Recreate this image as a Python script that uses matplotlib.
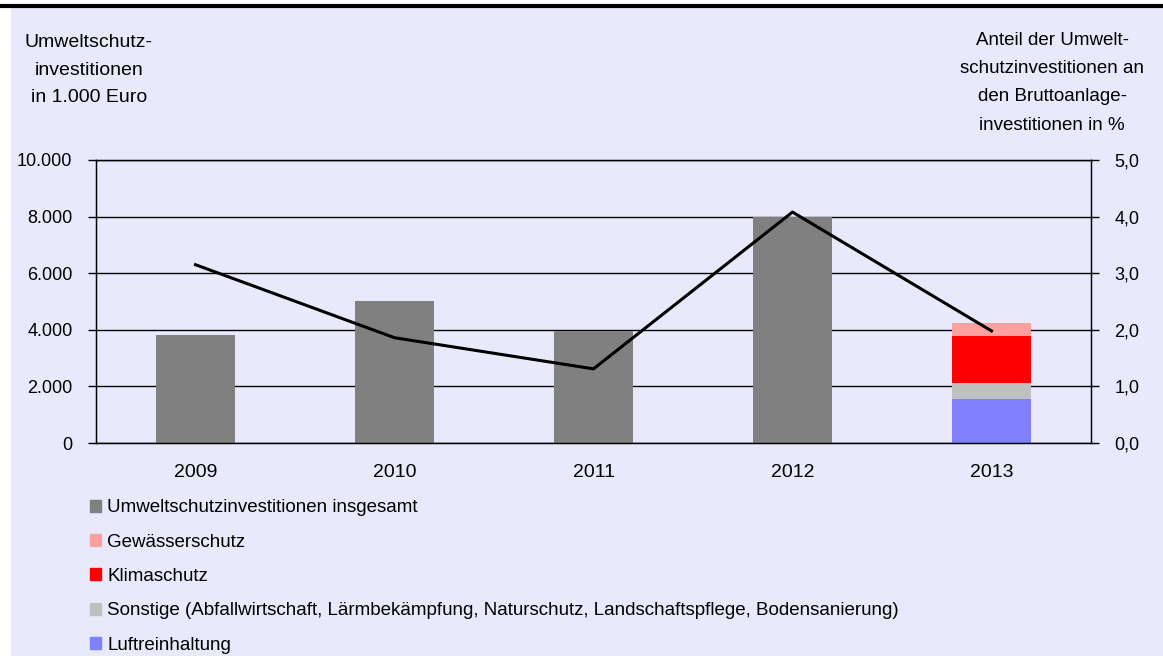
import numpy as np
import matplotlib.pyplot as plt
from matplotlib.patches import Patch, Rectangle
from matplotlib.lines import Line2D
from matplotlib.ticker import FuncFormatter

plt.rcParams['font.family'] = ['Liberation Sans', 'DejaVu Sans']

years = ['2009', '2010', '2011', '2012', '2013']
gesamt = [3820, 5020, 3950, 8000, np.nan]
# 2013 Aufteilung nach Bereichen
luft_2013 = 1550
sonstige_2013 = 570
klima_2013 = 1670
gewaesser_2013 = 450
anteil = [3.15, 1.86, 1.31, 4.08, 1.98]

bg = '#E9E9FC'
fig = plt.figure(figsize=(11.63, 6.56), dpi=100)
fig.patch.set_facecolor('white')
fig.add_artist(Rectangle((11 / 1163, 0), 1 - 11 / 1163, 1 - 8 / 656,
                         transform=fig.transFigure, facecolor=bg, edgecolor='none', zorder=0))
fig.add_artist(Line2D([0, 1], [1 - 6 / 656, 1 - 6 / 656], transform=fig.transFigure,
                      color='black', lw=3))

ax = fig.add_axes([96 / 1163, 1 - 443 / 656, (1091 - 96) / 1163, (443 - 160) / 656])
ax.set_facecolor(bg)
x = np.arange(len(years))
w = 0.4
ax.bar(x[:4], gesamt[:4], width=w, color='#808080', zorder=2)
b = 0
for val, col in [(luft_2013, '#8080FF'), (sonstige_2013, '#C0C0C0'),
                 (klima_2013, '#FF0000'), (gewaesser_2013, '#FFA0A0')]:
    ax.bar(x[4], val, bottom=b, width=w, color=col, zorder=2)
    b += val

ax.set_xlim(-0.5, 4.5)
ax.set_ylim(0, 10000)
ax.set_yticks(np.arange(0, 10001, 2000))
ax.yaxis.set_major_formatter(FuncFormatter(lambda v, p: f'{int(v):,}'.replace(',', '.')))
ax.grid(axis='y', color='black', lw=1, zorder=1)
ax.set_axisbelow(True)
ax.set_xticks(x)
ax.set_xticklabels(years)
ax.tick_params(axis='x', length=0, pad=15, labelsize=14)
ax.tick_params(axis='y', length=6, width=1, labelsize=13, pad=11)
for s in ax.spines.values():
    s.set_color('black')
    s.set_linewidth(1)

ax2 = ax.twinx()
ax2.plot(x, anteil, color='black', lw=2.2, zorder=3)
ax2.set_ylim(0, 5)
ax2.set_yticks(np.arange(0, 5.01, 1))
ax2.yaxis.set_major_formatter(FuncFormatter(lambda v, p: f'{v:.1f}'.replace('.', ',')))
ax2.tick_params(axis='y', length=6, width=1, labelsize=13, pad=11)

fig.text(89 / 1163, 1 - 34 / 656, 'Umweltschutz-\ninvestitionen\nin 1.000 Euro',
         ha='center', va='top', fontsize=14, linespacing=1.82)
fig.text(1052 / 1163, 1 - 32 / 656,
         'Anteil der Umwelt-\nschutzinvestitionen an\nden Bruttoanlage-\ninvestitionen in %',
         ha='center', va='top', fontsize=13.5, linespacing=1.86)

handles = [Patch(color='#808080', label='Umweltschutzinvestitionen insgesamt'),
           Patch(color='#FFA0A0', label='Gewässerschutz'),
           Patch(color='#FF0000', label='Klimaschutz'),
           Patch(color='#C0C0C0', label='Sonstige (Abfallwirtschaft, Lärmbekämpfung, Naturschutz, Landschaftspflege, Bodensanierung)'),
           Patch(color='#8080FF', label='Luftreinhaltung')]
fig.legend(handles=handles, loc='upper left', bbox_to_anchor=(82 / 1163, 1 - 492 / 656),
           frameon=False, fontsize=13.5, handlelength=0.6, handleheight=0.6,
           handletextpad=0.35, labelspacing=0.92, borderaxespad=0)

fig.savefig('out.png', dpi=100, facecolor=fig.get_facecolor())
